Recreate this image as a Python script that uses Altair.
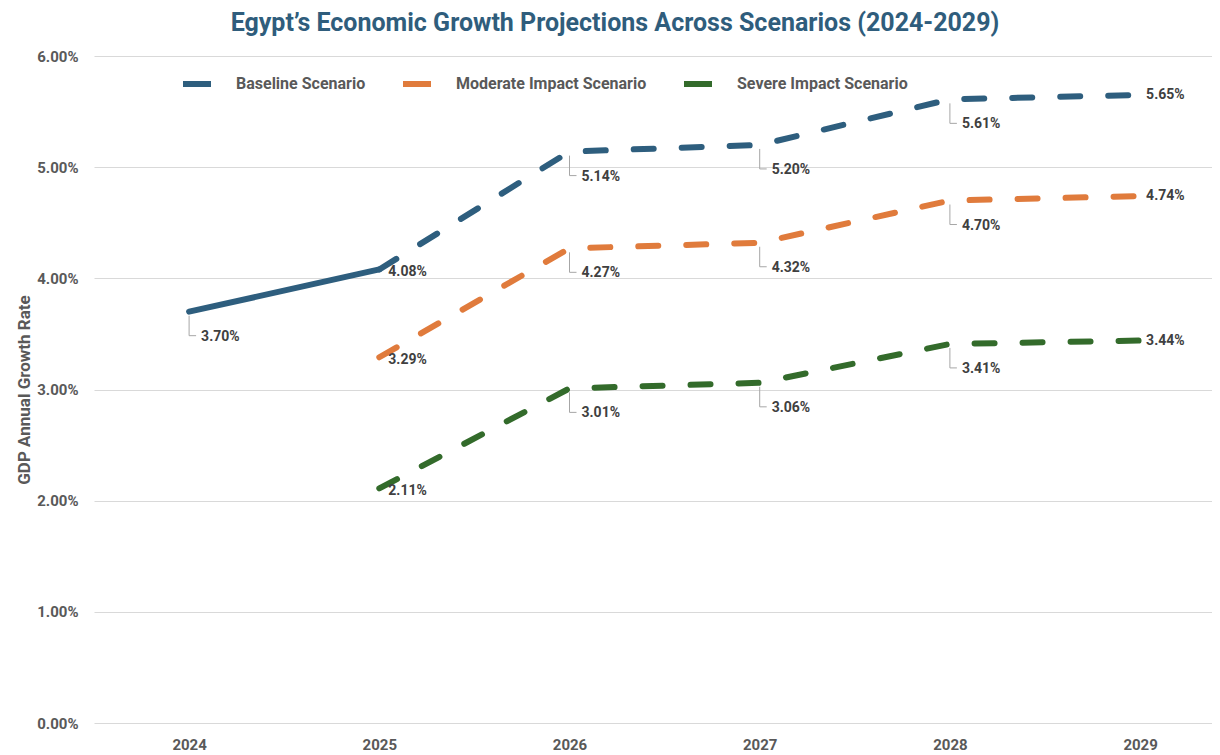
import altair as alt
import pandas as pd

years = [2024, 2025, 2026, 2027, 2028, 2029]
scenarios = ["Baseline Scenario", "Moderate Impact Scenario", "Severe Impact Scenario"]
colors = ["#2E5E7E", "#E07B3C", "#336B2B"]

baseline_actual = [3.70, 4.08]              # 2024-2025 (solid)
baseline = [4.08, 5.14, 5.20, 5.61, 5.65]   # 2025-2029
moderate = [3.29, 4.27, 4.32, 4.70, 4.74]
severe = [2.11, 3.01, 3.06, 3.41, 3.44]

hist = pd.DataFrame({
    "year": years[:2],
    "value": [v / 100 for v in baseline_actual],
    "scenario": scenarios[0],
})
rows = []
for s, vals in zip(scenarios, [baseline, moderate, severe]):
    for y, v in zip(years[1:], vals):
        rows.append({"year": y, "value": v / 100, "scenario": s})
proj = pd.DataFrame(rows)

labels = pd.concat([hist[hist["year"] == 2024], proj], ignore_index=True)

TXT = "#404040"
AX = "#595959"
FONT = "Roboto"

x_enc = alt.X("year:Q",
              scale=alt.Scale(domain=[2023.5, 2029.378], nice=False, zero=False),
              axis=alt.Axis(values=years, format="d", title=None, grid=False,
                            domain=False, ticks=False, labelFontSize=15,
                            labelFontWeight="bold", labelColor=AX, labelFont=FONT,
                            labelPadding=14))
y_enc = alt.Y("value:Q",
              scale=alt.Scale(domain=[0, 0.06], nice=False),
              axis=alt.Axis(values=[0, 0.01, 0.02, 0.03, 0.04, 0.05, 0.06], format=".2%",
                            title="GDP Annual Growth Rate", titleFontSize=17,
                            titleFontWeight="bold", titleColor=AX, titleFont=FONT,
                            titlePadding=3, domain=False, ticks=False,
                            labelFontSize=15, labelFontWeight="bold", labelColor=AX,
                            labelFont=FONT, labelPadding=16, gridColor="#D9D9D9",
                            gridWidth=1))
color_enc = alt.Color("scenario:N",
                      scale=alt.Scale(domain=scenarios, range=colors),
                      legend=alt.Legend(title=None, orient="none", direction="horizontal",
                                        legendX=86, legendY=11, symbolType="stroke",
                                        symbolSize=784, symbolStrokeWidth=6,
                                        symbolDash=[100, 1], labelFontSize=16,
                                        labelFontWeight="bold", labelColor=AX,
                                        labelFont=FONT, labelOffset=22,
                                        columnPadding=25, labelLimit=400, padding=0))

hist_line = alt.Chart(hist).mark_line(strokeWidth=6, strokeCap="round").encode(
    x=x_enc, y=y_enc, color=color_enc)

proj_line = alt.Chart(proj).mark_line(strokeWidth=6, strokeCap="round",
                                      strokeDash=[20, 28]).encode(
    x=x_enc, y=y_enc, color=color_enc)

mid = alt.Chart(labels).transform_filter(
    (alt.datum.year == 2024) | ((alt.datum.year >= 2026) & (alt.datum.year <= 2028)))

lead_v = mid.mark_rule(color="#A6A6A6", strokeWidth=1, yOffset=4, y2Offset=24).encode(
    x="year:Q", y="value:Q", y2="value:Q")
lead_h = mid.mark_rule(color="#A6A6A6", strokeWidth=1, yOffset=24, x2Offset=7).encode(
    x="year:Q", x2="year:Q", y="value:Q")
mid_text = mid.mark_text(align="left", baseline="middle", dx=12, dy=25, fontSize=14,
                         fontWeight="bold", color=TXT, font=FONT).encode(
    x="year:Q", y="value:Q", text=alt.Text("value:Q", format=".2%"))

start_text = alt.Chart(labels).transform_filter(alt.datum.year == 2025).mark_text(
    align="left", baseline="middle", dx=9, dy=3, fontSize=14, fontWeight="bold",
    color=TXT, font=FONT).encode(
    x="year:Q", y="value:Q", text=alt.Text("value:Q", format=".2%"))

end_text = alt.Chart(labels).transform_filter(alt.datum.year == 2029).mark_text(
    align="left", baseline="middle", dx=6, dy=0, fontSize=14, fontWeight="bold",
    color=TXT, font=FONT).encode(
    x="year:Q", y="value:Q", text=alt.Text("value:Q", format=".2%"))

chart = alt.layer(hist_line, proj_line, lead_v, lead_h, mid_text, start_text, end_text).properties(
    width=1118, height=667,
    autosize=alt.AutoSizeParams(type="none"),
    padding={"left": 86, "top": 48, "right": 0, "bottom": 32},
    title=alt.TitleParams(
        "Egypt\u2019s Economic Growth Projections Across Scenarios (2024-2029)",
        anchor="middle", dx=-38, offset=13, fontSize=25, font=FONT,
        fontWeight="bold", color="#2F5D7C"),
).configure_view(stroke=None)

chart.save("out.html", embed_options={"renderer": "svg", "actions": False})
